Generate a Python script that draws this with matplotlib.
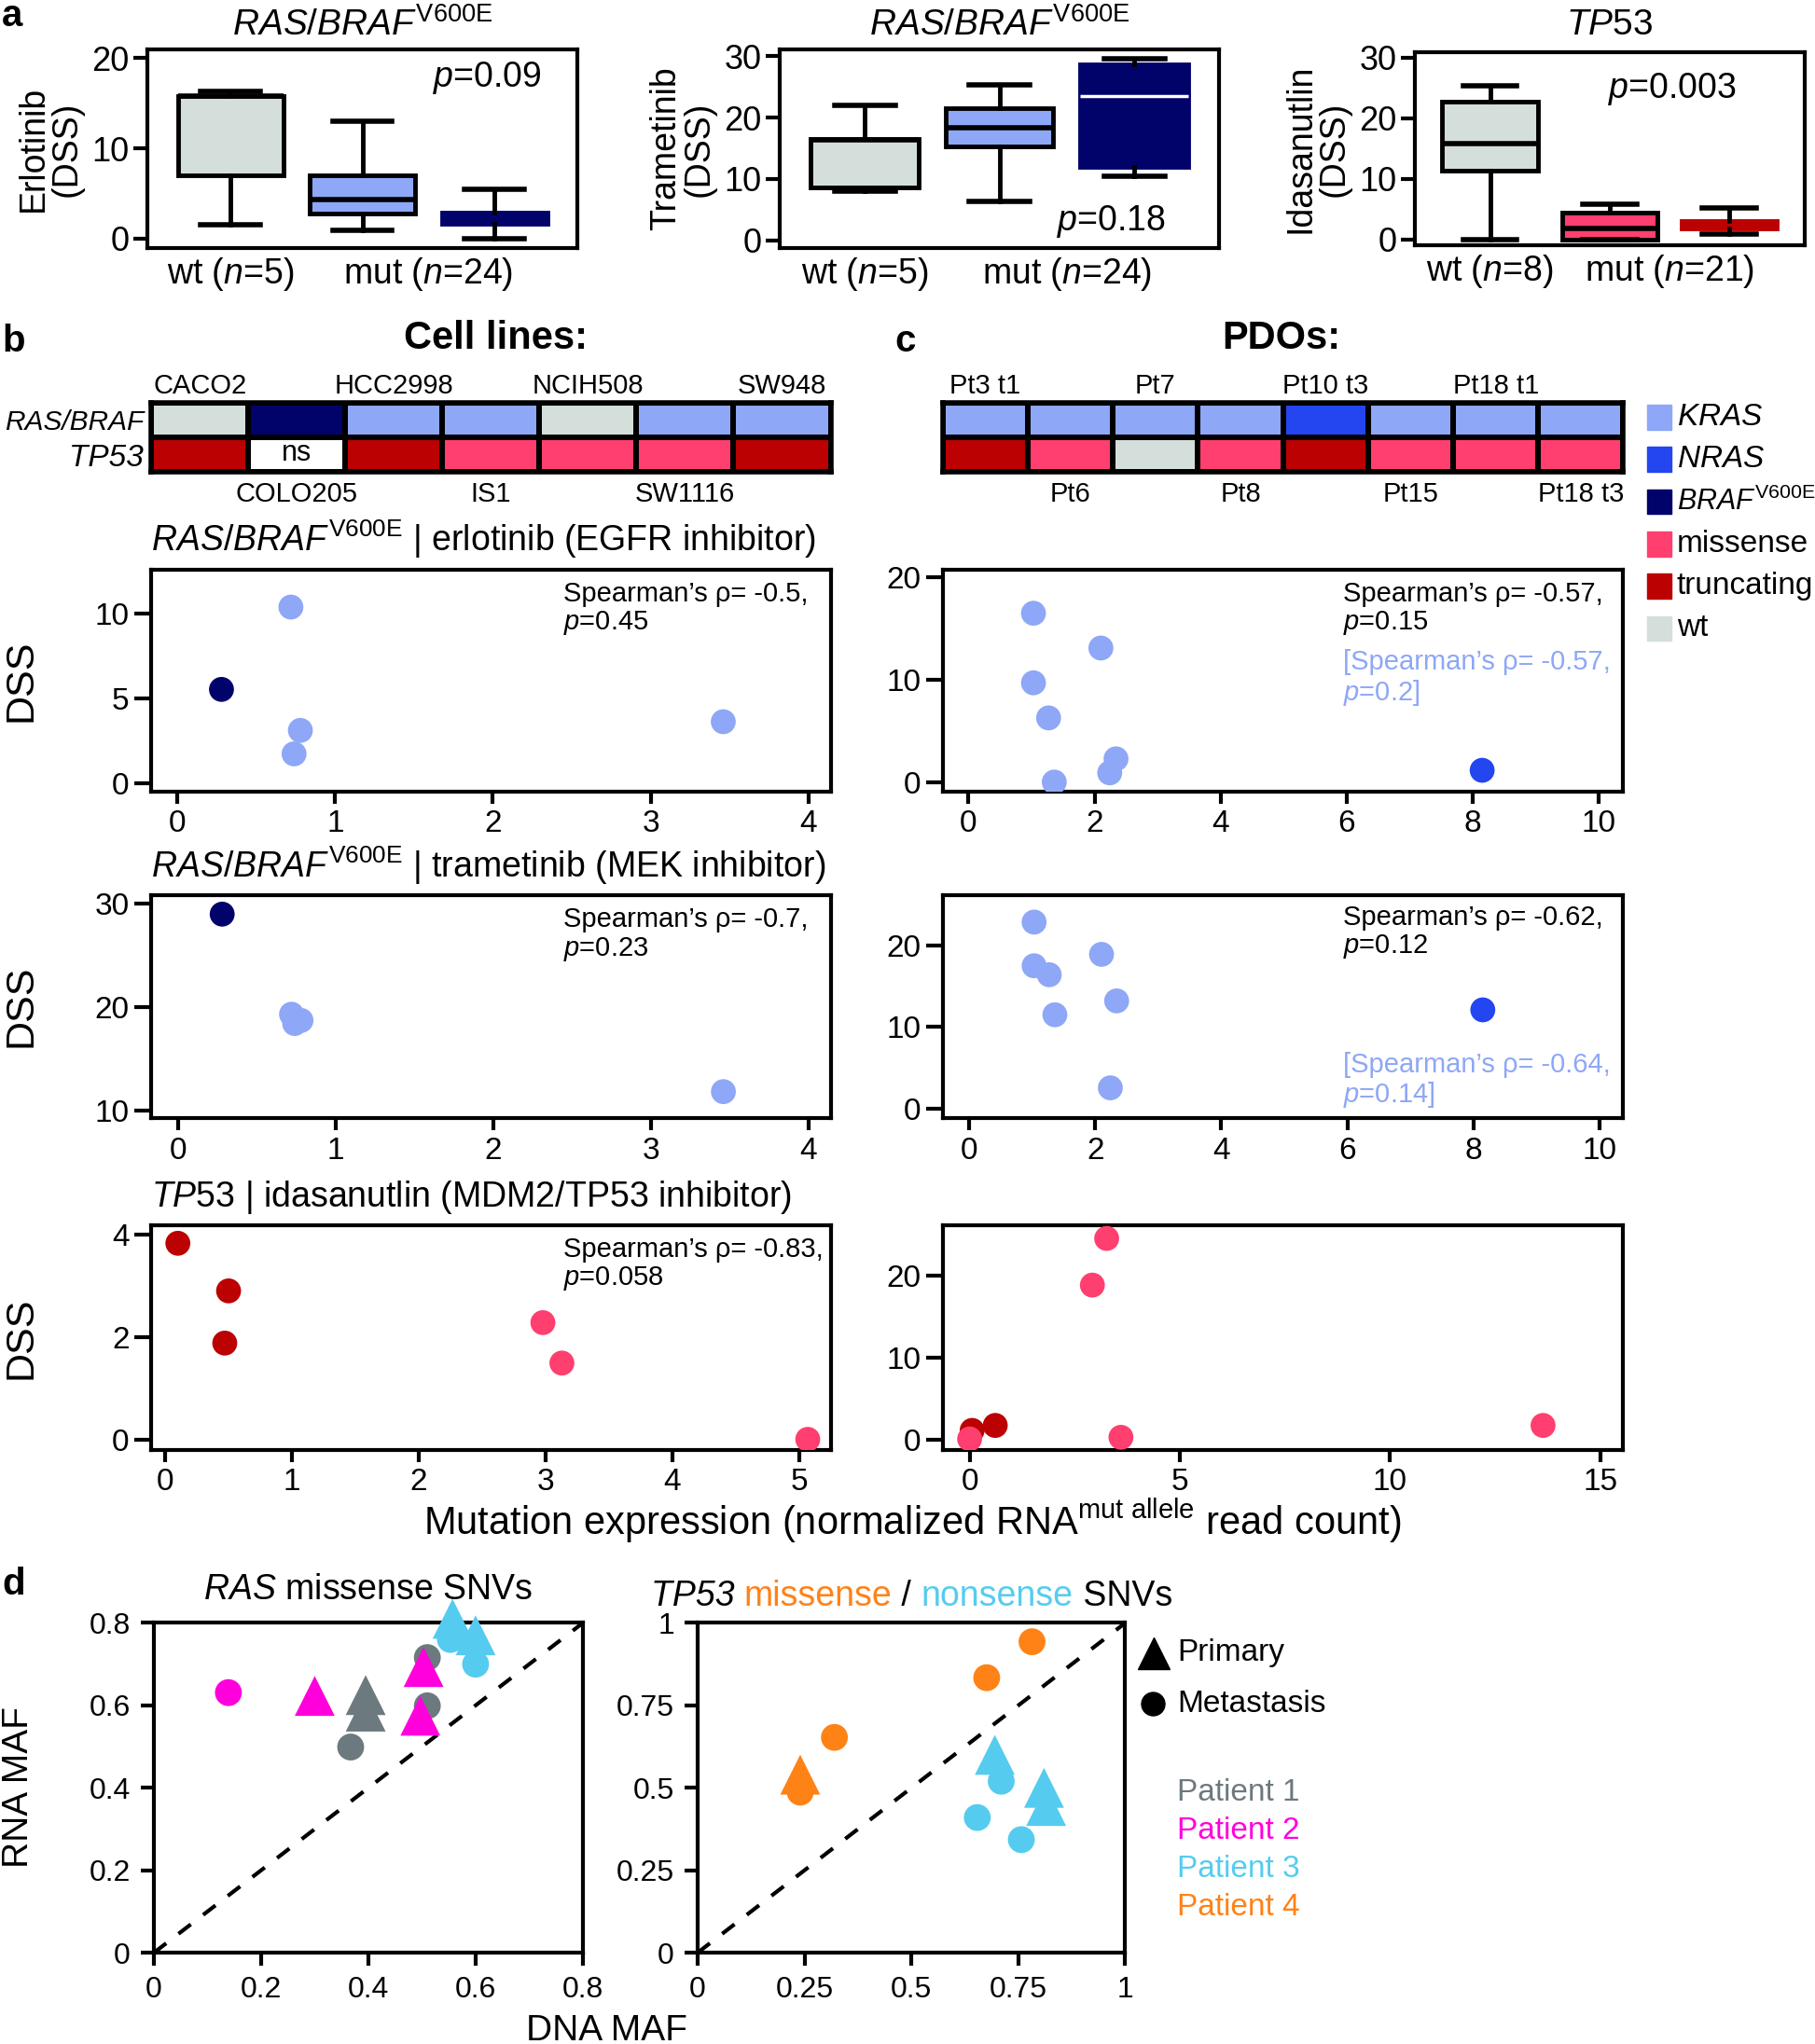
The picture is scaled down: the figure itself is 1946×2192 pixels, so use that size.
import numpy as np
import matplotlib
matplotlib.use("Agg")
import matplotlib.pyplot as plt
import matplotlib.transforms as mtransforms
from matplotlib.colors import ListedColormap
from matplotlib.lines import Line2D
from matplotlib.patches import Rectangle
from matplotlib.offsetbox import TextArea, HPacker, AnchoredOffsetbox

plt.rcParams['font.family'] = ['Liberation Sans', 'DejaVu Sans']
plt.rcParams['mathtext.fontset'] = 'custom'
plt.rcParams['mathtext.rm'] = 'Liberation Sans'
plt.rcParams['mathtext.it'] = 'Liberation Sans:italic'
plt.rcParams['mathtext.bf'] = 'Liberation Sans:bold'
plt.rcParams['axes.linewidth'] = 3

# colours
col = {"wt": "#D4DEDA", "KRAS": "#8EA7F6", "NRAS": "#2346F0", "BRAF": "#02026B",
       "missense": "#FF3F6F", "truncating": "#BB0101", "ns": "#FFFFFF"}
patient_col = {1: "#6C797E", 2: "#FF00DC", 3: "#55CCEF", 4: "#FF8217"}

# --- a: box plot summaries ---
ras_groups = ["wt", "KRAS", "BRAF"]
erl_lo = [1.5, 0.9, 0.0]
erl_q1 = [7.0, 2.8, 1.6]
erl_med = [15.8, 4.3, 2.2]
erl_q3 = [15.8, 7.0, 2.9]
erl_hi = [16.3, 13.0, 5.5]

tra_lo = [8.0, 6.4, 10.5]
tra_q1 = [8.6, 15.3, 12.0]
tra_med = [16.3, 18.3, 23.5]
tra_q3 = [16.6, 21.5, 28.7]
tra_hi = [22.0, 25.4, 29.6]

tp53_groups = ["wt", "missense", "truncating"]
ida_lo = [0.0, 0.0, 0.9]
ida_q1 = [11.4, 0.0, 1.9]
ida_med = [15.9, 1.9, 2.5]
ida_q3 = [22.8, 4.4, 3.1]
ida_hi = [25.3, 5.9, 5.2]

# --- b/c: mutation tables ---
cell_lines = ["CACO2", "COLO205", "HCC2998", "IS1", "NCIH508", "SW1116", "SW948"]
cell_ras = ["wt", "BRAF", "KRAS", "KRAS", "wt", "KRAS", "KRAS"]
cell_tp53 = ["truncating", "ns", "truncating", "missense", "missense", "missense", "truncating"]
pdos = ["Pt3 t1", "Pt6", "Pt7", "Pt8", "Pt10 t3", "Pt15", "Pt18 t1", "Pt18 t3"]
pdo_ras = ["KRAS", "KRAS", "KRAS", "KRAS", "NRAS", "KRAS", "KRAS", "KRAS"]
pdo_tp53 = ["truncating", "missense", "wt", "missense", "truncating", "missense", "missense", "missense"]

# --- b/c: scatter values ---
cl_ras_expr = [0.28, 0.72, 0.78, 0.74, 3.46]
cl_ras_type = ["BRAF", "KRAS", "KRAS", "KRAS", "KRAS"]
cl_erl_dss = [5.53, 10.37, 3.12, 1.74, 3.63]
cl_tra_dss = [29.0, 19.3, 18.7, 18.4, 11.8]

pdo_ras_expr = [1.03, 1.03, 1.27, 1.36, 2.10, 2.24, 2.34, 8.15]
pdo_ras_type = ["KRAS"] * 7 + ["NRAS"]
pdo_erl_dss = [16.5, 9.7, 6.27, 0.0, 13.1, 0.9, 2.27, 1.15]
pdo_tra_dss = [22.85, 17.5, 16.4, 11.5, 18.9, 2.55, 13.2, 12.1]

cl_tp53_expr = [0.10, 0.50, 0.47, 2.98, 3.13, 5.07]
cl_tp53_type = ["truncating"] * 3 + ["missense"] * 3
cl_ida_dss = [3.83, 2.9, 1.88, 2.28, 1.49, 0.0]

pdo_tp53_expr = [0.06, 0.61, 3.26, 2.92, 0.0, 3.6, 13.64]
pdo_tp53_type = ["truncating"] * 2 + ["missense"] * 5
pdo_ida_dss = [1.14, 1.75, 24.6, 18.9, 0.1, 0.3, 1.75]

# --- d: DNA vs RNA MAF ---
ras_dna = [0.395, 0.395, 0.367, 0.51, 0.51, 0.139, 0.30, 0.503, 0.497, 0.553, 0.60, 0.557, 0.60]
ras_rna = [0.625, 0.585, 0.499, 0.716, 0.599, 0.631, 0.623, 0.693, 0.575, 0.76, 0.70, 0.81, 0.77]
ras_patient = [1, 1, 1, 1, 1, 2, 2, 2, 2, 3, 3, 3, 3]
ras_site = ["P", "P", "M", "M", "M", "M", "P", "P", "P", "M", "M", "P", "P"]

tp53_dna = [0.782, 0.676, 0.32, 0.24, 0.24, 0.71, 0.654, 0.757, 0.695, 0.81, 0.815]
tp53_rna = [0.943, 0.834, 0.653, 0.487, 0.54, 0.52, 0.41, 0.343, 0.60, 0.50, 0.445]
tp53_patient = [4, 4, 4, 4, 4, 3, 3, 3, 3, 3, 3]
tp53_site = ["M", "M", "M", "M", "P", "M", "M", "M", "P", "P", "P"]

W, H = 1392.0, 1568.0


def box(l, t, r, b):
    return [l / W, 1 - b / H, (r - l) / W, (b - t) / H]


fig = plt.figure(figsize=(19.46, 21.92), dpi=100)
TICK = 24

# ================= panel a =================
panels_a = [
    (box(113, 38, 443, 190), ras_groups, (erl_lo, erl_q1, erl_med, erl_q3, erl_hi),
     (-1.0, 20.95), [0, 10, 20], "Erlotinib\n(DSS)", r"$\it{RAS/BRAF}^{\rm V600E}$",
     r"$p$=0.09", (0.79, 0.855), ["wt ($n$=5)", "mut ($n$=24)"]),
    (box(598, 38, 935, 190), ras_groups, (tra_lo, tra_q1, tra_med, tra_q3, tra_hi),
     (-1.2, 31.1), [0, 10, 20, 30], "Trametinib\n(DSS)", r"$\it{RAS/BRAF}^{\rm V600E}$",
     r"$p$=0.18", (0.755, 0.13), ["wt ($n$=5)", "mut ($n$=24)"]),
    (box(1085, 40, 1384, 188), tp53_groups, (ida_lo, ida_q1, ida_med, ida_q3, ida_hi),
     (-0.9, 30.9), [0, 10, 20, 30], "Idasanutlin\n(DSS)", r"$\it{TP53}$",
     r"$p$=0.003", (0.66, 0.81), ["wt ($n$=8)", "mut ($n$=21)"]),
]
for pos, groups, (lo, q1, med, q3, hi), ylim, yt, ylab, title, ptxt, ppos, xl in panels_a:
    ax = fig.add_axes(pos)
    stats = [dict(whislo=a, q1=b, med=c, q3=d, whishi=e, fliers=[])
             for a, b, c, d, e in zip(lo, q1, med, q3, hi)]
    bp = ax.bxp(stats, positions=[1, 2, 3], widths=0.8, patch_artist=True,
                showfliers=False, capwidths=0.45,
                boxprops=dict(linewidth=3.5), whiskerprops=dict(linewidth=3.5, color='k'),
                capprops=dict(linewidth=4, color='k'),
                medianprops=dict(linewidth=4, color='k'))
    for i, g in enumerate(groups):
        bp['boxes'][i].set_facecolor(col[g])
        bp['boxes'][i].set_edgecolor('k')
    # third group drawn without outline
    bp['boxes'][2].set_edgecolor(col[groups[2]])
    bp['medians'][2].set_color('white' if groups[2] == "BRAF" and ylim[1] > 30 else col[groups[2]])
    bp['medians'][2].set_linewidth(2.5)
    ax.set_xlim(0.37, 3.63)
    ax.set_ylim(*ylim)
    ax.set_yticks(yt)
    ax.set_xticks([1, 2.5])
    ax.set_xticklabels(xl, fontsize=27)
    ax.tick_params(axis='x', length=0, pad=6)
    ax.tick_params(axis='y', length=11, width=3, labelsize=26, pad=3)
    ax.set_ylabel(ylab, fontsize=27, linespacing=1.0, labelpad=6)
    ax.text(ppos[0], ppos[1], ptxt, transform=ax.transAxes, ha='center', va='center', fontsize=27)
    fig.text(pos[0] + pos[2] / 2, 1 - 19 / H, title, ha='center', va='center', fontsize=28)

# ================= panels b / c heatmaps =================
cats = ["wt", "KRAS", "NRAS", "BRAF", "missense", "truncating", "ns"]
cmap = ListedColormap([col[c] for c in cats])


def heat(pos, names, ras, tp53, rowlabels):
    ax = fig.add_axes(pos)
    m = np.array([[cats.index(c) for c in ras], [cats.index(c) for c in tp53]])
    ax.pcolormesh(m, cmap=cmap, vmin=-0.5, vmax=len(cats) - 0.5, edgecolors='k', linewidth=3)
    ax.set_xlim(0, len(names))
    ax.set_ylim(2, 0)
    ax.set_xticks([])
    for s in ax.spines.values():
        s.set_linewidth(4)
    if rowlabels:
        ax.set_yticks([0.5, 1.5])
        labs = ax.set_yticklabels(["RAS/BRAF", "TP53"], fontstyle='italic')
        labs[0].set_fontsize(21.5)
        labs[1].set_fontsize(24)
        ax.tick_params(axis='y', length=0, pad=6)
    else:
        ax.set_yticks([])
    tr = mtransforms.blended_transform_factory(ax.transData, ax.transAxes)
    for i, n in enumerate(names):
        if i % 2 == 0:
            ax.text(i + 0.5, 1.24, n, transform=tr, ha='center', va='center', fontsize=21)
        else:
            ax.text(i + 0.5, -0.32, n, transform=tr, ha='center', va='center', fontsize=21)
    for i, c in enumerate(tp53):
        if c == "ns":
            ax.text(i + 0.5, 1.45, "ns", ha='center', va='center', fontsize=22)
    return ax


heat(box(116, 309, 637, 362), cell_lines, cell_ras, cell_tp53, True)
heat(box(723, 309, 1245, 362), pdos, pdo_ras, pdo_tp53, False)

fig.text(380 / W, 1 - 260 / H, "Cell lines:", ha='center', va='center', fontsize=30, fontweight='bold')
fig.text(983 / W, 1 - 260 / H, "PDOs:", ha='center', va='center', fontsize=30, fontweight='bold')

# legend for mutation types
leg_keys = ["KRAS", "NRAS", "BRAF", "missense", "truncating", "wt"]
leg_labels = [r"$\it{KRAS}$", r"$\it{NRAS}$", r"$\it{BRAF}^{\rm V600E}$", "missense", "truncating", "wt"]
for i, (k, lab) in enumerate(zip(leg_keys, leg_labels)):
    yc = 1 - (320 + i * 32.4) / H
    fig.patches.append(Rectangle((1263 / W, yc - 9.5 / H), 19 / W, 19 / H, color=col[k],
                                 transform=fig.transFigure, figure=fig))
    fig.text(1286 / W, yc, lab, ha='left', va='center', fontsize=22 if k == "BRAF" else 24)

# ================= scatter rows =================
SP = "Spearman\u2019s \u03c1= "


def scatter_panel(pos, x, y, kinds, xlim, ylim, xt, yt, txt, txtpos, txt2=None, txt2pos=None):
    ax = fig.add_axes(pos)
    ax.scatter(x, y, s=370, c=[col[k] for k in kinds], edgecolors='none', zorder=3)
    ax.set_xlim(*xlim)
    ax.set_ylim(*ylim)
    ax.set_xticks(xt)
    ax.set_yticks(yt)
    ax.tick_params(axis='y', length=13, width=3, labelsize=TICK, pad=4)
    ax.tick_params(axis='x', length=9, width=3, labelsize=TICK, pad=5)
    ax.text(txtpos[0], txtpos[1], txt, transform=ax.transAxes, ha='left', va='top',
            fontsize=21, linespacing=1.1)
    if txt2:
        ax.text(txt2pos[0], txt2pos[1], txt2, transform=ax.transAxes, ha='left', va='top',
                fontsize=21, linespacing=1.1, color=col["KRAS"])
    return ax


b1 = scatter_panel(box(116, 437, 637, 607), cl_ras_expr, cl_erl_dss, cl_ras_type,
                   (-0.165, 4.14), (-0.46, 12.57), [0, 1, 2, 3, 4], [0, 5, 10],
                   SP + "-0.5,\n$p$=0.45", (0.607, 0.95))
c1 = scatter_panel(box(723, 437, 1245, 607), pdo_ras_expr, pdo_erl_dss, pdo_ras_type,
                   (-0.41, 10.39), (-0.9, 20.76), [0, 2, 4, 6, 8, 10], [0, 10, 20],
                   SP + "-0.57,\n$p$=0.15", (0.588, 0.95),
                   "[" + SP + "-0.57,\n$p$=0.2]", (0.588, 0.64))
b2 = scatter_panel(box(116, 687, 637, 858), cl_ras_expr, cl_tra_dss, cl_ras_type,
                   (-0.17, 4.14), (9.2, 30.8), [0, 1, 2, 3, 4], [10, 20, 30],
                   SP + "-0.7,\n$p$=0.23", (0.607, 0.95))
c2 = scatter_panel(box(723, 687, 1245, 858), pdo_ras_expr, pdo_tra_dss, pdo_ras_type,
                   (-0.42, 10.38), (-1.2, 26.1), [0, 2, 4, 6, 8, 10], [0, 10, 20],
                   SP + "-0.62,\n$p$=0.12", (0.588, 0.96),
                   "[" + SP + "-0.64,\n$p$=0.14]", (0.588, 0.30))
b3 = scatter_panel(box(116, 940, 637, 1112), cl_tp53_expr, cl_ida_dss, cl_tp53_type,
                   (-0.11, 5.25), (-0.2, 4.18), [0, 1, 2, 3, 4, 5], [0, 2, 4],
                   SP + "-0.83,\n$p$=0.058", (0.607, 0.95))
c3 = scatter_panel(box(723, 940, 1245, 1112), pdo_tp53_expr, pdo_ida_dss, pdo_tp53_type,
                   (-0.64, 15.55), (-1.2, 26.2), [0, 5, 10, 15], [0, 10, 20],
                   "", (0.6, 0.95))

row_titles = [(b1, r"$\it{RAS/BRAF}^{\rm V600E}$ | erlotinib (EGFR inhibitor)"),
              (b2, r"$\it{RAS/BRAF}^{\rm V600E}$ | trametinib (MEK inhibitor)"),
              (b3, r"$\it{TP53}$ | idasanutlin (MDM2/TP53 inhibitor)")]
for ax, t in row_titles:
    ax.text(0.0, 1.04, t, transform=ax.transAxes, ha='left', va='bottom', fontsize=27)

for yc in [522, 772, 1026]:
    fig.text(16 / W, 1 - yc / H, "DSS", rotation=90, ha='center', va='center', fontsize=31)

fig.text(700 / W, 1 - 1167 / H,
         r"Mutation expression (normalized RNA$^{\rm mut\ allele}$ read count)",
         ha='center', va='center', fontsize=30)

# ================= panel d =================
site_marker = {"P": "^", "M": "o"}
site_size = {"P": 950, "M": 430}


def maf_panel(pos, dna, rna, patients, sites, lim, ticks, ticklabels):
    ax = fig.add_axes(pos)
    ax.plot(lim, lim, color='k', lw=3, dashes=(4, 4), zorder=1)
    for xx, yy, p, s in zip(dna, rna, patients, sites):
        ax.scatter(xx, yy, s=site_size[s], marker=site_marker[s], color=patient_col[p],
                   edgecolors='none', zorder=3, clip_on=False)
    ax.set_xlim(*lim)
    ax.set_ylim(*lim)
    ax.set_xticks(ticks)
    ax.set_xticklabels(ticklabels)
    ax.set_yticks(ticks)
    ax.set_yticklabels(ticklabels)
    ax.tick_params(length=10, width=3, labelsize=23, pad=8)
    return ax


d1 = maf_panel(box(118, 1245, 447, 1498), ras_dna, ras_rna, ras_patient, ras_site,
               [0, 0.8], [0, 0.2, 0.4, 0.6, 0.8], ["0", "0.2", "0.4", "0.6", "0.8"])
d2 = maf_panel(box(535, 1245, 863, 1498), tp53_dna, tp53_rna, tp53_patient, tp53_site,
               [0, 1], [0, 0.25, 0.5, 0.75, 1], ["0", "0.25", "0.5", "0.75", "1"])

d1.text(0.5, 1.05, r"$\it{RAS}$ missense SNVs", transform=d1.transAxes, ha='center',
        va='bottom', fontsize=27)
parts = [TextArea("TP53 ", textprops=dict(fontsize=27, style='italic')),
         TextArea("missense", textprops=dict(fontsize=27, color=patient_col[4])),
         TextArea(" / ", textprops=dict(fontsize=27)),
         TextArea("nonsense", textprops=dict(fontsize=27, color=patient_col[3])),
         TextArea(" SNVs", textprops=dict(fontsize=27))]
hb = HPacker(children=parts, align='baseline', pad=0, sep=0)
d2.add_artist(AnchoredOffsetbox(loc='lower center', child=hb, pad=0, borderpad=0, frameon=False,
                                bbox_to_anchor=(0.5, 1.03), bbox_transform=d2.transAxes))

fig.text(14 / W, 1 - 1371 / H, "RNA MAF", rotation=90, ha='center', va='center', fontsize=28)
fig.text(465 / W, 1 - 1545 / H, "DNA MAF", ha='center', va='top', fontsize=28)

fig.add_artist(Line2D([885 / W], [1 - 1268 / H], marker='^', markersize=24, color='k',
                      transform=fig.transFigure))
fig.add_artist(Line2D([884 / W], [1 - 1307 / H], marker='o', markersize=18, color='k',
                      transform=fig.transFigure))
fig.text(903 / W, 1 - 1268 / H, "Primary", ha='left', va='center', fontsize=24)
fig.text(903 / W, 1 - 1307 / H, "Metastasis", ha='left', va='center', fontsize=24)
for i, p in enumerate([1, 2, 3, 4]):
    fig.text(903 / W, 1 - (1375 + i * 29.5) / H, "Patient %d" % p, ha='left', va='center',
             fontsize=24, color=patient_col[p])

# panel letters
for lab, x, y in [("a", 0, 12), ("b", 0, 262), ("c", 685, 262), ("d", 0, 1215)]:
    fig.text(x / W + 0.001, 1 - y / H, lab, ha='left', va='center', fontsize=29, fontweight='bold')

fig.savefig("out.png", dpi=100)
